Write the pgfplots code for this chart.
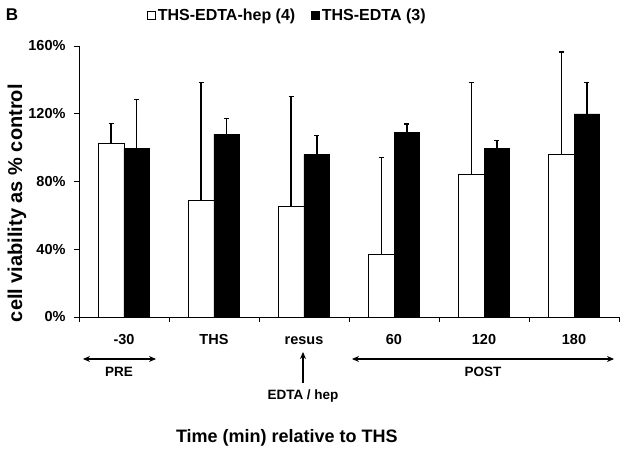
\documentclass[border=0pt]{standalone}
\usepackage{fontspec}
\setmainfont{Liberation Sans}
\usepackage{pgfplots}
\pgfplotsset{compat=1.18}
\usetikzlibrary{arrows.meta}

\begin{document}
\begin{tikzpicture}
\begin{axis}[
  scale only axis, width=540pt, height=271pt,
  ybar=0pt, bar width=25.7pt,
  xmin=-0.5, xmax=5.5, ymin=0, ymax=160,
  axis x line=bottom, axis y line=left,
  axis line style={-, line width=0.8pt},
  xtick={-0.5,0.5,1.5,2.5,3.5,4.5,5.5}, xticklabels={,,,,,,},
  extra x ticks={0,1,2,3,4,5},
  extra x tick labels={-30,THS,resus,60,120,180},
  extra x tick style={major tick length=0pt, xticklabel style={yshift=-13pt, text height=10.5pt, text depth=0pt, font=\fontsize{14.5}{16}\selectfont\bfseries}},
  ytick={0,40,80,120,160}, yticklabels={0\%,40\%,80\%,120\%,160\%},
  yticklabel style={xshift=-5pt},
  tick align=outside, major tick length=5pt,
  tick style={black, line width=0.8pt},
  ticklabel style={font=\fontsize{14.5}{16}\selectfont\bfseries},
  clip=false,
  xlabel={Time (min) relative to THS},
  xlabel style={at={(axis description cs:0.385,-0.4465)}, anchor=center, font=\fontsize{18}{20}\selectfont\bfseries},
  ylabel={cell viability as \% control},
  ylabel style={at={(axis description cs:-0.1148,0.42)}, anchor=center, font=\fontsize{20}{22}\selectfont\bfseries},
  legend columns=2,
  legend style={draw=none, at={(axis description cs:0.126,1)}, anchor=west, yshift=31pt,
    font=\fontsize{16}{18}\selectfont\bfseries, inner sep=0pt,
    /tikz/every even column/.append style={column sep=14pt}},
  legend image code/.code={\draw[#1, line width=0.6pt, draw=black] (0pt,-4pt) rectangle (8pt,4pt);},
]
\addplot[fill=white, draw=black, line width=0.7pt,
  error bars/.cd, y dir=plus, y explicit,
  error bar style={line width=1.3pt, black},
  error mark options={line width=1.3pt, mark size=2.5pt, rotate=90, black}]
  coordinates {(0,102.3) +- (0,11.8) (1,69.1) +- (0,69.5) (2,65.3) +- (0,65.0)
               (3,36.8) +- (0,57.3) (4,84.1) +- (0,54.5) (5,96.1) +- (0,60.4)};
\addlegendentry{THS-EDTA-hep (4)}
\addplot[fill=black, draw=black, line width=0.7pt,
  error bars/.cd, y dir=plus, y explicit,
  error bar style={line width=1.3pt, black},
  error mark options={line width=1.3pt, mark size=2.5pt, rotate=90, black}]
  coordinates {(0,99.4) +- (0,29.1) (1,108.0) +- (0,9.3) (2,96.0) +- (0,11.3)
               (3,108.9) +- (0,5.1) (4,99.4) +- (0,4.9) (5,119.9) +- (0,18.7)};
\addlegendentry{THS-EDTA (3)}
\coordinate (O) at (rel axis cs:0,0);
\end{axis}
\begin{scope}[font=\fontsize{13.5}{15}\selectfont\bfseries]
\draw[line width=1.4pt, {Stealth[length=7pt,width=6pt]}-{Stealth[length=7pt,width=6pt]}]
  ([xshift=4pt,yshift=-42pt]O) -- ([xshift=77pt,yshift=-42pt]O);
\node at ([xshift=40pt,yshift=-55pt]O) {PRE};
\draw[line width=1.4pt, {Stealth[length=7pt,width=6pt]}-{Stealth[length=7pt,width=6pt]}]
  ([xshift=273pt,yshift=-42pt]O) -- ([xshift=535pt,yshift=-42pt]O);
\node at ([xshift=404pt,yshift=-55pt]O) {POST};
\draw[line width=1.4pt, -{Stealth[length=7pt,width=6pt]}]
  ([xshift=224pt,yshift=-66pt]O) -- ([xshift=224pt,yshift=-35pt]O);
\node at ([xshift=224pt,yshift=-79pt]O) {EDTA / hep};
\node[font=\fontsize{17}{20}\selectfont\bfseries] at ([xshift=-67pt,yshift=302pt]O) {B};
\end{scope}
\path ([xshift=-79pt,yshift=-138pt]O) rectangle ([xshift=545pt,yshift=317pt]O);
\end{tikzpicture}
\end{document}
